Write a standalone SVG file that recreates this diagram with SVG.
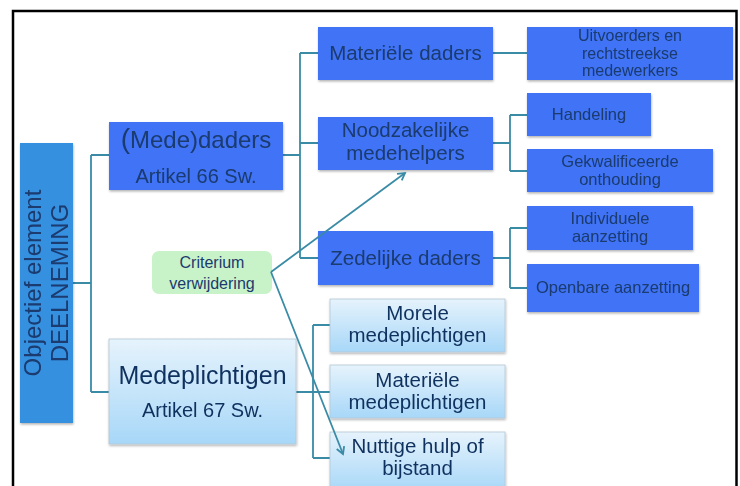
<svg xmlns="http://www.w3.org/2000/svg" width="740" height="486" viewBox="0 0 740 486">
<defs>
<style>
text{font-family:"Liberation Sans",Arial,sans-serif;text-anchor:middle;}
.dark{fill:#3f73f5;}
.side{fill:#3590e0;}
.light{fill:url(#lg);stroke:#b5c7d6;stroke-width:0.8;}
.t{fill:#1a3a6e;}
.tl{fill:#10305e;}
.con{fill:none;stroke:#3a8ba6;stroke-width:1.8;}
.arr{fill:none;stroke:#3a8ba6;stroke-width:1.8;marker-end:url(#ah);}
.box{filter:url(#sh);}
</style>
<linearGradient id="lg" x1="0" y1="0" x2="0" y2="1">
<stop offset="0" stop-color="#e6f3fc"/>
<stop offset="1" stop-color="#a7d7f8"/>
</linearGradient>
<filter id="sh" x="-5%" y="-5%" width="110%" height="120%">
<feDropShadow dx="0.5" dy="1.5" stdDeviation="1" flood-color="#000" flood-opacity="0.3"/>
</filter>
<marker id="ah" markerWidth="10" markerHeight="10" refX="8" refY="5" orient="auto" markerUnits="userSpaceOnUse">
<path d="M1,1 L8,5 L1,9" fill="none" stroke="#3a8ba6" stroke-width="1.8"/>
</marker>
</defs>
<rect x="0" y="0" width="740" height="486" fill="#fff"/>
<rect x="13" y="11" width="723.5" height="500" fill="none" stroke="#000" stroke-width="2.5"/>

<g id="connectors">
<path class="con" d="M73,283 H91 M91,155 V392 M91,155 H109 M91,392 H109"/>
<path class="con" d="M283,155 H300 M300,53 V258 M300,53 H318 M300,143 H318 M300,258 H318"/>
<path class="con" d="M493,53 H527"/>
<path class="con" d="M493,143 H510 M510,115 V171 M510,115 H527 M510,171 H527"/>
<path class="con" d="M493,258 H510 M510,228 V288 M510,228 H527 M510,288 H527"/>
<path class="con" d="M296,392 H313 M313,325 V458 M313,325 H330 M313,392 H330 M313,458 H330"/>
</g>

<g id="deelneming" class="box">
<rect class="side" x="20" y="143" width="53" height="280"/>
<text class="t" transform="translate(0,283) rotate(-90)" font-size="24"><tspan x="0" y="41">Objectief element</tspan><tspan x="0" y="68">DEELNEMING</tspan></text>
</g>

<g id="mededaders" class="box">
<rect class="dark" x="109" y="122" width="174" height="68"/>
<text class="t" x="196" y="148" font-size="24"><tspan font-size="28">(</tspan>Mede)daders</text>
<text class="t" x="196" y="183" font-size="20">Artikel 66 Sw.</text>
</g>

<g id="medeplichtigen" class="box">
<rect class="light" x="109" y="339" width="187" height="105"/>
<text class="tl" x="202.5" y="384" font-size="25">Medeplichtigen</text>
<text class="tl" x="202.5" y="417" font-size="20">Artikel 67 Sw.</text>
</g>

<g id="materiele-daders" class="box">
<rect class="dark" x="318" y="27" width="175" height="53"/>
<text class="t" x="405.5" y="59.5" font-size="20.5">Materiële daders</text>
</g>

<g id="uitvoerders" class="box">
<rect class="dark" x="527" y="27" width="206" height="53"/>
<text class="t" font-size="16"><tspan x="630" y="41">Uitvoerders en</tspan><tspan x="630" y="58.5">rechtstreekse</tspan><tspan x="630" y="76">medewerkers</tspan></text>
</g>

<g id="noodzakelijke" class="box">
<rect class="dark" x="318" y="117" width="175" height="53"/>
<text class="t" font-size="20.5"><tspan x="405.5" y="137">Noodzakelijke</tspan><tspan x="405.5" y="160">medehelpers</tspan></text>
</g>

<g id="handeling" class="box">
<rect class="dark" x="527" y="93" width="124" height="43"/>
<text class="t" x="589" y="120" font-size="16.5">Handeling</text>
</g>

<g id="gekwalificeerde" class="box">
<rect class="dark" x="527" y="149" width="186" height="43"/>
<text class="t" font-size="16.5"><tspan x="620" y="167">Gekwalificeerde</tspan><tspan x="620" y="184.5">onthouding</tspan></text>
</g>

<g id="zedelijke" class="box">
<rect class="dark" x="318" y="231" width="175" height="54"/>
<text class="t" x="405.5" y="265" font-size="20.5">Zedelijke daders</text>
</g>

<g id="individuele" class="box">
<rect class="dark" x="527" y="206" width="166" height="44"/>
<text class="t" font-size="16.5"><tspan x="610" y="224">Individuele</tspan><tspan x="610" y="242">aanzetting</tspan></text>
</g>

<g id="openbare" class="box">
<rect class="dark" x="527" y="264" width="172" height="48"/>
<text class="t" x="613" y="293" font-size="16.5">Openbare aanzetting</text>
</g>

<g id="morele" class="box">
<rect class="light" x="330" y="299" width="175" height="53"/>
<text class="tl" font-size="20.5"><tspan x="417.5" y="320">Morele</tspan><tspan x="417.5" y="342">medeplichtigen</tspan></text>
</g>

<g id="materiele-medeplichtigen" class="box">
<rect class="light" x="330" y="365" width="175" height="53"/>
<text class="tl" font-size="20.5"><tspan x="417.5" y="387">Materiële</tspan><tspan x="417.5" y="408.5">medeplichtigen</tspan></text>
</g>

<g id="nuttige" class="box">
<rect class="light" x="330" y="432" width="175" height="60"/>
<text class="tl" font-size="20.5"><tspan x="417.5" y="453">Nuttige hulp of</tspan><tspan x="417.5" y="475">bijstand</tspan></text>
</g>

<g id="criterium">
<rect x="152" y="251" width="120" height="43" rx="7" fill="#c8f2c8"/>
<text class="t" font-size="16"><tspan x="212" y="268">Criterium</tspan><tspan x="212" y="289">verwijdering</tspan></text>
</g>

<g id="arrows">
<path class="arr" d="M271,272 L405,173"/>
<path class="arr" d="M271,272 L343,454"/>
</g>
</svg>
